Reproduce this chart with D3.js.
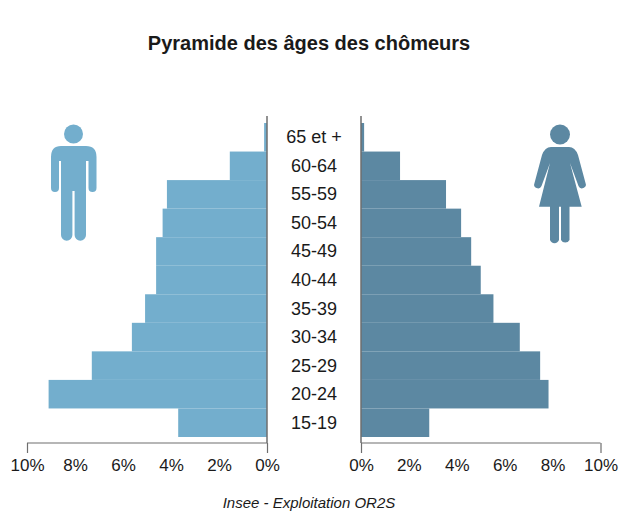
<!DOCTYPE html>
<html>
<head>
  <script src="https://d3js.org/d3.v7.min.js"></script>
  <style>
    html, body { margin: 0; background: #fff; }
    text { font-family: "Liberation Sans", Arial, sans-serif; fill: #1a1a1a; }
  </style>
</head>
<body>
<div id="vis"></div>
<script>
const ages = ["65 et +", "60-64", "55-59", "50-54", "45-49", "40-44", "35-39", "30-34", "25-29", "20-24", "15-19"];
const men = [0.12, 1.55, 4.17, 4.35, 4.62, 4.62, 5.08, 5.63, 7.3, 9.1, 3.7];
const women = [0.13, 1.63, 3.55, 4.18, 4.6, 5.0, 5.53, 6.63, 7.48, 7.83, 2.85];
const ticks = [0, 2, 4, 6, 8, 10];

const width = 619, height = 512;
const menColor = "#73aecd", womenColor = "#5c88a2", axisColor = "#6e6e6e";

const svg = d3.select("#vis").append("svg")
  .attr("width", width)
  .attr("height", height)
  .style("display", "block");

const xLeft = d3.scaleLinear().domain([0, 10]).range([267, 27]);
const xRight = d3.scaleLinear().domain([0, 10]).range([361, 600.5]);
const y = d3.scaleBand().domain(ages).range([123, 437]);

// bars
function bars(values, x, color) {
  svg.append("g").selectAll("rect")
    .data(values)
    .enter()
    .append("rect")
    .attr("x", d => Math.min(x(0), x(d)))
    .attr("y", (d, i) => y(ages[i]))
    .attr("width", d => Math.abs(x(d) - x(0)))
    .attr("height", y.bandwidth())
    .attr("fill", color);
}
bars(men, xLeft, menColor);
bars(women, xRight, womenColor);

// axes
function axis(x) {
  const g = svg.append("g")
    .attr("transform", "translate(0,443)")
    .call(d3.axisBottom(x).tickValues(ticks).tickFormat(d => d + "%").tickSize(10).tickSizeOuter(0).tickPadding(6));
  g.selectAll("path, line").attr("stroke", axisColor).attr("stroke-width", 1.2);
  g.select(".domain").attr("d", `M${x(0)},0H${x(10)}`);
  g.selectAll("line").filter(d => d !== 0 && d !== 10).remove();
  g.selectAll("text").attr("font-size", 17);
  g.attr("font-family", null);
}
axis(xLeft);
axis(xRight);

// vertical lines at zero
[xLeft, xRight].forEach(x => {
  svg.append("line")
    .attr("x1", x(0)).attr("x2", x(0))
    .attr("y1", 116).attr("y2", 443)
    .attr("stroke", axisColor)
    .attr("stroke-width", 1.5);
});

// age labels
svg.append("g").selectAll("text")
  .data(ages)
  .enter()
  .append("text")
  .attr("x", 314)
  .attr("y", d => y(d) + y.bandwidth() / 2 + 6)
  .attr("text-anchor", "middle")
  .attr("font-size", 18)
  .text(d => d);

svg.append("text")
  .attr("x", 309)
  .attr("y", 49.5)
  .attr("text-anchor", "middle")
  .attr("font-size", 20)
  .attr("font-weight", "bold")
  .text("Pyramide des âges des chômeurs");

svg.append("text")
  .attr("x", 309)
  .attr("y", 508)
  .attr("text-anchor", "middle")
  .attr("font-size", 15)
  .attr("font-style", "italic")
  .text("Insee - Exploitation OR2S");

// man icon
const man = svg.append("g").attr("fill", menColor);
man.append("circle").attr("cx", 73.5).attr("cy", 134).attr("r", 9.5);
man.append("path").attr("d",
  "M61,146H86Q96.5,146 96.5,157V188A4,4 0 0 1 88.5,188V161H86V235A5.7,5.7 0 0 1 74.6,235V191H72.4V235A5.7,5.7 0 0 1 61,235V161H59V188A4,4 0 0 1 51,188V157Q51,146 61,146Z");

// woman icon
const woman = svg.append("g").attr("fill", womenColor);
woman.append("circle").attr("cx", 560).attr("cy", 134.5).attr("r", 10);
woman.append("path").attr("d",
  "M551,147H569Q575,147 578,155L585.5,183A3.6,3.6 0 0 1 578.5,186L570,163L581.7,206.7H569.5V240A4.8,4.8 0 0 1 561,240V206.7H559V240A4.8,4.8 0 0 1 550,240V206.7H539L550,163L541.5,186A3.6,3.6 0 0 1 534.5,183L542,155Q545,147 551,147Z");
</script>
</body>
</html>
